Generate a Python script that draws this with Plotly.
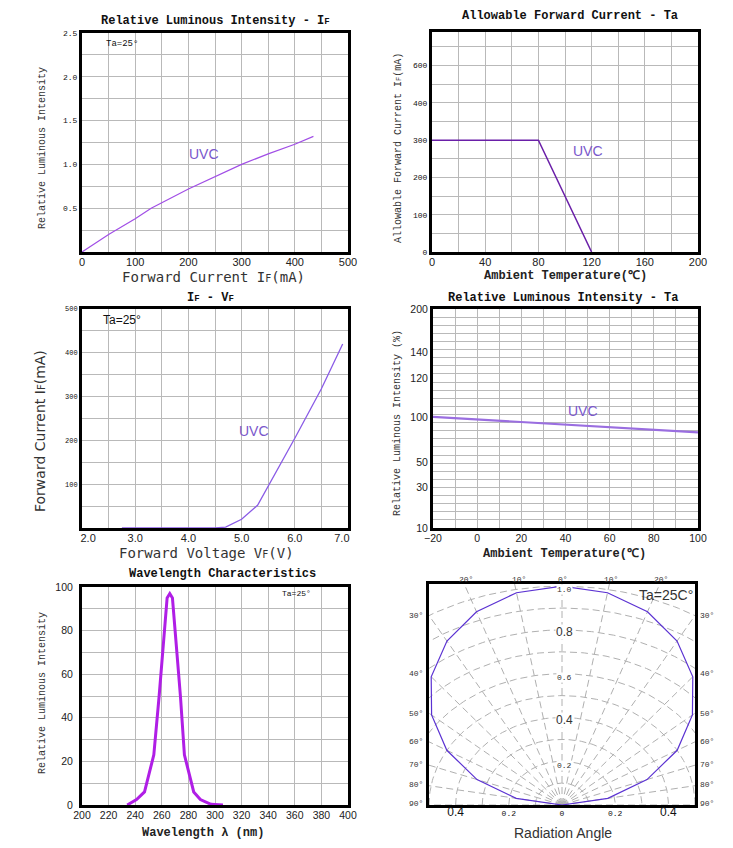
import numpy as np
import plotly.graph_objects as go

# Relative luminous intensity vs forward current
p1_current = [0, 50, 100, 130, 200, 250, 300, 350, 400, 435]
p1_intensity = [0, 0.2, 0.38, 0.5, 0.72, 0.86, 1.0, 1.12, 1.23, 1.32]

# Allowable forward current vs ambient temperature
p2_temp = [0, 80, 120]
p2_current = [300, 300, 0]

# IF - VF
p3_voltage = [2.75, 4.5, 4.7, 5.0, 5.3, 5.5, 6.0, 6.5, 6.9]
p3_current = [0, 0, 2, 20, 52, 95, 205, 318, 420]

# Relative luminous intensity vs ambient temperature (odd, non-uniform axis)
p4_temp = [-20, 100]
p4_intensity = [100, 83]
p4_tick_values = [10, 30, 50, 100, 120, 140, 200]
p4_tick_pos = [0, 5, 8.1, 13.7, 18.5, 21.6, 27]

# Wavelength characteristics
p5_wavelength = [234, 241, 247, 254, 258, 262, 264, 266, 268, 270, 274, 277, 284, 289, 297, 306]
p5_intensity = [0, 2.5, 6, 23, 50, 80, 95, 97, 95, 80, 50, 23, 6, 2.5, 0.3, 0]

# Radiation pattern (angle from axis, relative intensity)
p6_angle = [-90, -80, -70, -60, -50, -40, -30, -20, -10, 0, 10, 20, 30, 40, 50, 60, 70, 80, 90]
p6_intensity = [0, 0.175, 0.34, 0.5, 0.64, 0.765, 0.865, 0.94, 0.985, 1.0,
                0.985, 0.94, 0.865, 0.765, 0.64, 0.5, 0.34, 0.175, 0]
p6_grid_radii = [0.1, 0.2, 0.3, 0.4, 0.5, 0.6, 0.7, 0.8, 0.9, 1.0]
p6_grid_angles = list(range(-90, 91, 10))

W, H = 733, 848
OFF = 8  # the html body margin shifts the figure by this much
MONO = "Liberation Mono"
SANS = "DejaVu Sans"
SANS_MONO = "DejaVu Sans Mono"
ARIAL = "Liberation Sans"
GRID = "#b9b9b9"


def px_x(a, b):
    return [(a - OFF) / W, (b - OFF) / W]


def px_y(top, bottom):
    return [1 - (bottom - OFF) / H, 1 - (top - OFF) / H]


def box_axis(domain, anchor, rng, font, **kw):
    ax = dict(domain=domain, anchor=anchor, range=rng, showline=True, mirror=True,
              linewidth=3, linecolor="black", showgrid=True, gridcolor=GRID, gridwidth=1,
              zeroline=False, ticks="", tickfont=font, fixedrange=True, automargin=False)
    ax.update(kw)
    return ax


def minor(step):
    return dict(dtick=step, showgrid=True, gridcolor=GRID, gridwidth=1, ticks="")


fig = go.Figure()

fig.add_trace(go.Scatter(x=p1_current, y=p1_intensity, mode="lines",
                         line=dict(color="#a14ee6", width=1.2), xaxis="x", yaxis="y"))
fig.add_trace(go.Scatter(x=p2_temp, y=p2_current, mode="lines",
                         line=dict(color="#6a1fa8", width=1.5), xaxis="x2", yaxis="y2"))
fig.add_trace(go.Scatter(x=p3_voltage, y=p3_current, mode="lines",
                         line=dict(color="#8a5be6", width=1.3), xaxis="x3", yaxis="y3"))
fig.add_trace(go.Scatter(x=p4_temp, y=np.interp(p4_intensity, p4_tick_values, p4_tick_pos),
                         mode="lines", line=dict(color="#9a6ee0", width=2.2),
                         xaxis="x4", yaxis="y4"))
fig.add_trace(go.Scatter(x=p5_wavelength, y=p5_intensity, mode="lines",
                         line=dict(color="#b01ee6", width=3), xaxis="x5", yaxis="y5"))

# radiation pattern: dashed arcs and spokes, then the curve
gx, gy = [], []
arc = np.radians(np.linspace(-90, 90, 181))
for r in p6_grid_radii:
    gx += list(r * np.sin(arc)) + [None]
    gy += list(r * np.cos(arc)) + [None]
for a in p6_grid_angles:
    t = np.radians(a)
    gx += [0, 1.3 * np.sin(t), None]
    gy += [0, 1.3 * np.cos(t), None]
fig.add_trace(go.Scatter(x=gx, y=gy, mode="lines", connectgaps=False,
                         line=dict(color="#b0b0b0", width=1, dash="7px,4px"),
                         xaxis="x6", yaxis="y6"))
t6 = np.radians(p6_angle)
r6 = np.array(p6_intensity)
fig.add_trace(go.Scatter(x=r6 * np.sin(t6), y=r6 * np.cos(t6), mode="lines",
                         line=dict(color="#5b32d2", width=1.2), xaxis="x6", yaxis="y6"))

f_mono8 = dict(family=MONO, size=8, color="#111")
f_sans11 = dict(family=ARIAL, size=11, color="#222")
f_sans10 = dict(family=ARIAL, size=10.5, color="#222")
big04 = "<span style='font-size:12px;font-family:Liberation Sans'>0.4</span>"
pad = "\u00a0" * 4

fig.update_layout(
    template="none",
    width=W, height=H,
    margin=dict(l=0, r=0, t=0, b=0, pad=0),
    paper_bgcolor="white", plot_bgcolor="white",
    showlegend=False,
    xaxis=box_axis(px_x(82, 348), "y", [0, 500], f_sans11, dtick=100, minor=minor(50),
                   ticklabelstandoff=-2),
    yaxis=box_axis(px_y(33, 252), "x", [0, 2.5], f_mono8,
                   tickvals=[0.5, 1, 1.5, 2, 2.5], ticktext=["0.5", "1.0", "1.5", "2.0", "2.5"],
                   minor=minor(0.25)),
    xaxis2=box_axis(px_x(432, 698), "y2", [0, 200], f_sans11, dtick=40, minor=minor(20),
                    ticklabelstandoff=-2),
    yaxis2=box_axis(px_y(32, 252), "x2", [0, 590], f_mono8,
                    tickvals=[0, 100, 200, 300, 400, 500],
                    ticktext=["0", "100", "200", "300", "400", "600"], minor=minor(50)),
    xaxis3=box_axis(px_x(82, 348), "y3", [2, 7], f_sans11, minor=minor(0.5),
                    tickvals=[2, 3, 4, 5, 6, 7],
                    ticktext=[pad + "2.0", "3.0", "4.0", "5.0", "6.0", "7.0" + pad],
                    ticklabelstandoff=-2),
    yaxis3=box_axis(px_y(309, 528), "x3", [0, 500], dict(family=MONO, size=7, color="#111"),
                    tickvals=[100, 200, 300, 400, 500], minor=minor(50)),
    xaxis4=box_axis(px_x(433, 698), "y4", [-20, 100], f_sans10, dtick=20, minor=minor(10),
                    ticklabelstandoff=-2),
    yaxis4=box_axis(px_y(309, 528), "x4", [0, 27], f_sans10, showgrid=False,
                    tickvals=p4_tick_pos, ticktext=[str(v) for v in p4_tick_values],
                    minor=dict(dtick=1, tick0=0, showgrid=True, gridcolor=GRID, ticks="")),
    xaxis5=box_axis(px_x(82, 348), "y5", [200, 400], f_sans10, dtick=20,
                    ticklabelstandoff=-2),
    yaxis5=box_axis(px_y(587, 805), "x5", [0, 100], f_sans10, dtick=20, minor=minor(10),
                    ticklabelstandoff=4),
    xaxis6=box_axis(px_x(429, 695), "y6", [-0.5, 0.5], f_mono8, showgrid=False,
                    tickvals=[-0.4, -0.2, 0, 0.2, 0.4],
                    ticktext=[big04, "0.2", "0", "0.2", big04], ticklabelstandoff=-2),
    yaxis6=box_axis(px_y(584, 805), "x6", [0, 1.01], f_mono8, showgrid=False,
                    showticklabels=False),
)

ann = []


def paper_text(text, x, y, font, angle=0):
    ann.append(dict(text=text, x=(x - OFF) / W, y=1 - (y - OFF) / H, xref="paper",
                    yref="paper", showarrow=False, font=font, textangle=angle,
                    xanchor="center", yanchor="middle"))


def data_text(text, x, y, n, font, **kw):
    xr = "x" if n == 1 else f"x{n}"
    yr = "y" if n == 1 else f"y{n}"
    d = dict(text=text, x=x, y=y, xref=xr, yref=yr, showarrow=False, font=font)
    d.update(kw)
    ann.append(d)


title_font = dict(family=MONO, size=12, color="#111")
ytitle_font = dict(family=MONO, size=10, color="#333")
xtitle_font = dict(family=MONO, size=12, color="#222")
big_font = dict(family=SANS_MONO, size=14, color="#333")
uvc_font = dict(family=ARIAL, size=14, color="#7a58cc")

# panel titles
sf = "<span style='font-size:9px'>F</span>"
paper_text(f"<b>Relative Luminous Intensity - I{sf}</b>", 215, 21, title_font)
paper_text("<b>Allowable Forward Current - Ta</b>", 570, 16, title_font)
paper_text(f"<b>I{sf} - V{sf}</b>", 210, 298, title_font)
paper_text("<b>Relative Luminous Intensity - Ta</b>", 563, 298, title_font)
paper_text("<b>Wavelength Characteristics</b>", 222, 574, title_font)

sub = "<span style='font-size:10px'>F</span>"
# axis titles
paper_text("Relative Luminous Intensity", 42, 148, ytitle_font, -90)
paper_text(f"Forward Current I{sub}(mA)", 213, 277, big_font)
paper_text("Allowable Forward Current I<span style='font-size:7px'>F</span>(mA)",
           398, 148, ytitle_font, -90)
paper_text("<b>Ambient Temperature(℃)</b>", 565, 276, xtitle_font)
paper_text(f"Forward Current I{sub}(mA)", 40, 431, dict(family=SANS, size=14, color="#333"), -90)
paper_text(f"Forward Voltage V{sub}(V)", 206, 553, big_font)
paper_text("Relative Luminous Intensity (%)", 398, 423, ytitle_font, -90)
paper_text("<b>Ambient Temperature(℃)</b>", 564, 554, xtitle_font)
paper_text("Relative Luminous Intensity", 42, 693, ytitle_font, -90)
paper_text("<b>Wavelength λ (nm)</b>", 203, 833, xtitle_font)
paper_text("Radiation Angle", 563, 833, dict(family=ARIAL, size=14, color="#333"))

# in-plot labels
data_text("UVC", 230, 1.12, 1, uvc_font)
data_text("Ta=25°", 75, 2.37, 1, dict(family=MONO, size=9, color="#111"))
data_text("UVC", 117, 272, 2, uvc_font)
data_text("UVC", 5.24, 222, 3, uvc_font)
data_text("Ta=25°", 2.75, 475, 3, dict(family=ARIAL, size=12, color="#111"))
data_text("UVC", 48, float(np.interp(102, p4_tick_values, p4_tick_pos)) + 0.3, 4, uvc_font)
data_text("Ta=25°", 361, 97, 5, dict(family=MONO, size=8, color="#111"))

# radiation chart labels
small = dict(family=MONO, size=8, color="#333")
mid = dict(family=ARIAL, size=12, color="#333")
data_text("Ta=25C°", 0.39, 0.96, 6, dict(family=ARIAL, size=14, color="#333"))
for txt, ry, f in [("1.0", 0.985, small), ("0.8", 0.79, mid), ("0.6", 0.585, small),
                   ("0.4", 0.39, mid), ("0.2", 0.18, small)]:
    data_text(txt, 0.01, ry, 6, f, bgcolor="white", borderpad=0)
for txt, px in [("20°", 466), ("10°", 519), ("0°", 563), ("10°", 611), ("20°", 661)]:
    paper_text(txt, px, 579, small)
for txt, py in [("30°", 615), ("40°", 673), ("50°", 713), ("60°", 741),
                ("70°", 764), ("80°", 784), ("90°", 803)]:
    paper_text(txt, 416, py, small)
    paper_text(txt, 707, py, small)

fig.update_layout(annotations=ann)
fig.write_html("out.html")
